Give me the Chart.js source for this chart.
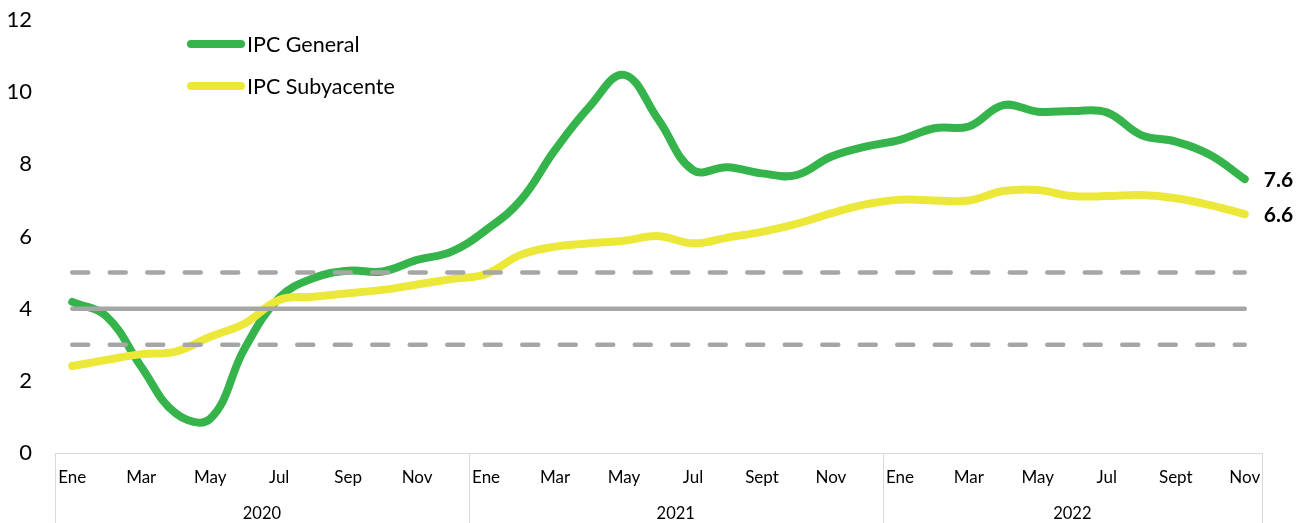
<!DOCTYPE html>
<html>
<head>
<meta charset="utf-8">
<script src="https://cdn.jsdelivr.net/npm/chart.js@4"></script>
<style>
  html, body { margin: 0; padding: 0; background: #fff; }
  #wrap { width: 1296px; height: 523px; position: relative; }
</style>
</head>
<body>
<div id="wrap"><canvas id="ipcChart"></canvas></div>
<script>
// IPC interanual (%), Ene 2020 - Nov 2022, con la meta 4% +/- 1.

const MONTHS = [
  "Ene","Feb","Mar","Abr","May","Jun","Jul","Ago","Sep","Oct","Nov","Dic",
  "Ene","Feb","Mar","Abr","May","Jun","Jul","Ago","Sept","Oct","Nov","Dic",
  "Ene","Feb","Mar","Abr","May","Jun","Jul","Ago","Sept","Oct","Nov",
];
const YEARS = ["2020", "2021", "2022"];

const IPC_GENERAL = [
  4.19, 3.78, 2.39, 1.10, 0.95, 2.90, 4.30, 4.85, 5.05, 5.03, 5.35, 5.58,
  6.18, 7.00, 8.40, 9.60, 10.48, 9.23, 7.84, 7.92, 7.75, 7.70, 8.21, 8.49,
  8.68, 9.00, 9.05, 9.64, 9.46, 9.48, 9.44, 8.81, 8.63, 8.26, 7.59,
];
const IPC_SUBYACENTE = [
  2.41, 2.58, 2.74, 2.81, 3.22, 3.59, 4.24, 4.33, 4.43, 4.52, 4.67, 4.82,
  4.96, 5.49, 5.72, 5.81, 5.88, 6.01, 5.81, 5.97, 6.13, 6.35, 6.64, 6.89,
  7.02, 7.00, 7.00, 7.26, 7.29, 7.12, 7.12, 7.15, 7.06, 6.87, 6.62,
];
const META = 4;
const RANGO = [3, 5];
const Y_TICKS = [0, 2, 4, 6, 8, 10, 12];

const GREEN = "#35b44c";
const YELLOW = "#ebe83a";
const GRAY = "#a6a6a6";
const AXIS = "#d9d9d9";
const FONT = "Lato, 'Open Sans', sans-serif";

const last = MONTHS.length - 1;

// meta lines run from first to last month on a hidden linear x axis
const grayLine = (v, dashed) => ({
  label: "ref" + v,
  data: [{ x: 0, y: v }, { x: last, y: v }],
  xAxisID: "xref",
  borderColor: GRAY,
  borderWidth: 4.5,
  borderDash: dashed ? [16, 21.5] : [],
  borderCapStyle: "round",
  pointRadius: 0,
  order: 0,
});

// custom legend, end labels, year row and year separators
const decor = {
  id: "decor",
  afterDraw(chart) {
    const { ctx, scales: { x, y } } = chart;
    ctx.save();

    // legend
    [[chart.data.datasets[3], 44], [chart.data.datasets[4], 86]].forEach(([ds, ly]) => {
      ctx.strokeStyle = ds.borderColor;
      ctx.lineWidth = 8;
      ctx.lineCap = "round";
      ctx.beginPath();
      ctx.moveTo(191, ly);
      ctx.lineTo(241, ly);
      ctx.stroke();
      ctx.fillStyle = "#000";
      ctx.font = "21.5px " + FONT;
      ctx.textAlign = "left";
      ctx.textBaseline = "middle";
      ctx.fillText(ds.label, 247, ly + 1);
    });

    // end value labels
    ctx.font = "bold 21px " + FONT;
    ctx.fillStyle = "#000";
    ctx.textAlign = "left";
    ctx.textBaseline = "middle";
    [IPC_GENERAL, IPC_SUBYACENTE].forEach(arr => {
      const v = arr[last];
      ctx.fillText(v.toFixed(1), x.getPixelForValue(last) + 19, y.getPixelForValue(v) + 1);
    });

    // year separators + year labels
    const half = (x.getPixelForValue(1) - x.getPixelForValue(0)) / 2;
    const edges = [0, 12, 24].map(i => x.getPixelForValue(i) - half);
    edges.push(x.getPixelForValue(last) + half);
    ctx.strokeStyle = AXIS;
    ctx.lineWidth = 1;
    ctx.lineCap = "butt";
    edges.forEach(ex => {
      ctx.beginPath();
      ctx.moveTo(Math.round(ex) + 0.5, x.top);
      ctx.lineTo(Math.round(ex) + 0.5, chart.height);
      ctx.stroke();
    });
    ctx.font = "16.5px " + FONT;
    ctx.textAlign = "center";
    YEARS.forEach((yr, i) => {
      ctx.fillText(yr, (edges[i] + edges[i + 1]) / 2, 514);
    });
    ctx.restore();
  },
};

new Chart(document.getElementById("ipcChart"), {
  type: "line",
  data: {
    labels: MONTHS,
    datasets: [
      grayLine(META, false),
      grayLine(RANGO[0], true),
      grayLine(RANGO[1], true),
      {
        label: "IPC General",
        data: IPC_GENERAL,
        borderColor: GREEN,
        borderWidth: 8,
        tension: 0.4,
        pointRadius: 0,
        borderCapStyle: "round",
        borderJoinStyle: "round",
        order: 2,
      },
      {
        label: "IPC Subyacente",
        data: IPC_SUBYACENTE,
        borderColor: YELLOW,
        borderWidth: 8,
        tension: 0.4,
        pointRadius: 0,
        borderCapStyle: "round",
        borderJoinStyle: "round",
        order: 1,
      },
    ],
  },
  options: {
    responsive: true, maintainAspectRatio: false,
    animation: false,
    layout: { padding: { top: 20, right: 34, left: 0, bottom: 0 } },
    plugins: { legend: { display: false }, tooltip: { enabled: false } },
    scales: {
      x: {
        type: "category",
        offset: true,
        grid: { display: false, drawTicks: false },
        border: { display: true, color: AXIS, width: 1 },
        ticks: {
          autoSkip: false, maxRotation: 0, minRotation: 0,
          padding: 14, color: "#000",
          font: { family: FONT, size: 17 },
          callback: (v, i) => (i % 2 === 0 ? MONTHS[i] : ""),
        },
        afterFit: s => { s.height = 70; },
      },
      xref: {
        type: "linear",
        display: false,
        min: -0.5, max: last + 0.5,
      },
      y: {
        min: 0, max: 12,
        afterBuildTicks: s => { s.ticks = Y_TICKS.map(v => ({ value: v })); },
        grid: { display: false, drawTicks: false },
        border: { display: false },
        ticks: { padding: 23, color: "#000", font: { family: FONT, size: 22 } },
        afterFit: s => { s.width = 55; s.paddingTop = 0; s.paddingBottom = 0; },
      },
    },
  },
  plugins: [decor],
});
</script>
</body>
</html>
